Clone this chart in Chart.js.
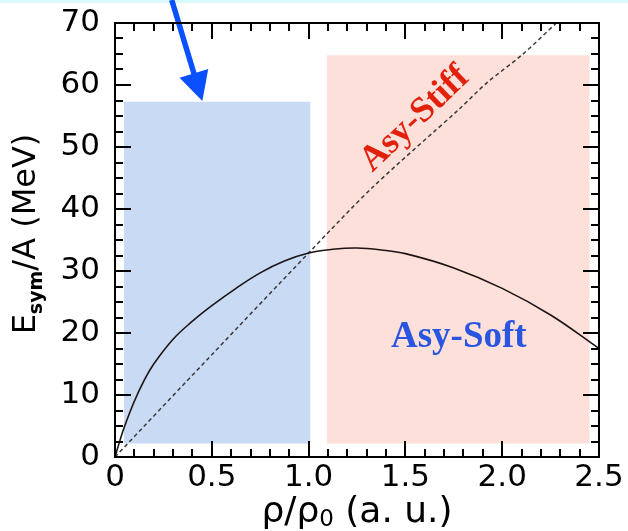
<!DOCTYPE html>
<html><head><meta charset="utf-8">
<script src="https://cdn.jsdelivr.net/npm/chart.js@4/dist/chart.umd.min.js"></script>
<style>html,body{margin:0;padding:0;background:#fff;}canvas{display:block}</style>
</head><body>
<canvas id="c" width="628" height="531"></canvas>
<script>
// ---- data ----
const densitySoft = [0, 0.025, 0.05, 0.1, 0.15, 0.2, 0.3, 0.4, 0.5, 0.625, 0.75, 0.875, 1.0, 1.125, 1.25, 1.375, 1.5, 1.75, 2.0, 2.25, 2.5];
const esymSoft    = [0, 2.6, 5.0, 9.0, 12.3, 15.0, 19.0, 21.9, 24.4, 27.2, 29.7, 31.6, 32.9, 33.5, 33.7, 33.4, 32.8, 30.5, 27.2, 22.9, 17.5];
const densityStiff = [0, 0.5, 1.0, 1.334, 1.781, 1.919, 2.1, 2.28];
const esymStiff    = [0, 16.5, 32.9, 43.6, 56.2, 60.3, 64.8, 70];
const softBandX  = [0.046, 1.01];
const softBandY  = [2.16, 57.3];
const stiffBandX = [1.093, 2.452];
const stiffBandY = [2.16, 64.8];
const xMajorTicks = [0, 0.5, 1, 1.5, 2, 2.5];
const xMinorTicks = [0.1,0.2,0.3,0.4,0.6,0.7,0.8,0.9,1.1,1.2,1.3,1.4,1.6,1.7,1.8,1.9,2.1,2.2,2.3,2.4];
const yMajorTicks = [0, 10, 20, 30, 40, 50, 60, 70];
const yMinorTicks = [2.5,5,7.5,12.5,15,17.5,22.5,25,27.5,32.5,35,37.5,42.5,45,47.5,52.5,55,57.5,62.5,65,67.5];
const labelTexts = ['Asy-Stiff', 'Asy-Soft'];
const labelX = [1.55, 1.776];
const labelY = [54.5, 17.75];
const arrowFrom = [0.293, 73.7];
const arrowTo   = [0.451, 57.4];
const xTitle = ['ρ/ρ', '0', ' (a. u.)'];
const yTitle = ['E', 'sym', '/A (MeV)'];

const pts = (xs, ys) => xs.map((x, i) => ({x, y: ys[i]}));
const band = (bx, y) => [{x: bx[0], y}, {x: bx[1], y}];

const framePlugin = {
  id: 'frame',
  beforeDraw(chart) {
    const ctx = chart.ctx;
    ctx.save();
    ctx.fillStyle = '#ffffff';
    ctx.fillRect(0, 0, chart.width, chart.height);
    ctx.fillStyle = '#dafbfd';
    ctx.fillRect(0, 0, chart.width, 3);
    ctx.restore();
  },
  afterDatasetsDraw(chart) {
    const {ctx, scales: {x, y}} = chart;
    ctx.save();
    ctx.textAlign = 'center';
    ctx.fillStyle = '#e2200c';
    ctx.font = 'bold 36px "Liberation Serif", "Times New Roman", serif';
    ctx.save();
    ctx.translate(x.getPixelForValue(labelX[0]), y.getPixelForValue(labelY[0]));
    ctx.rotate(-43.6 * Math.PI / 180);
    ctx.textBaseline = 'middle';
    ctx.fillText(labelTexts[0], 0, 0);
    ctx.restore();
    ctx.fillStyle = '#2a55e0';
    ctx.font = 'bold 37px "Liberation Serif", "Times New Roman", serif';
    ctx.textBaseline = 'alphabetic';
    ctx.fillText(labelTexts[1], x.getPixelForValue(labelX[1]), y.getPixelForValue(labelY[1]));
    // arrow
    const x0 = x.getPixelForValue(arrowFrom[0]), y0 = y.getPixelForValue(arrowFrom[1]);
    const x1 = x.getPixelForValue(arrowTo[0]), y1 = y.getPixelForValue(arrowTo[1]);
    const ang = Math.atan2(y1 - y0, x1 - x0);
    const hl = 29, hw = 15;
    const bx = x1 - hl * Math.cos(ang), by = y1 - hl * Math.sin(ang);
    ctx.strokeStyle = '#0a50ff';
    ctx.fillStyle = '#0a50ff';
    ctx.lineWidth = 5.5;
    ctx.beginPath(); ctx.moveTo(x0, y0); ctx.lineTo(bx + 2 * Math.cos(ang), by + 2 * Math.sin(ang)); ctx.stroke();
    ctx.beginPath();
    ctx.moveTo(x1, y1);
    ctx.lineTo(bx + hw * Math.sin(ang), by - hw * Math.cos(ang));
    ctx.lineTo(bx - hw * Math.sin(ang), by + hw * Math.cos(ang));
    ctx.closePath(); ctx.fill();
    ctx.restore();
  },
  afterDraw(chart) {
    const {ctx, chartArea: a, scales: {x, y}} = chart;
    ctx.save();
    ctx.strokeStyle = '#000';
    ctx.lineWidth = 2;
    ctx.strokeRect(a.left, a.top, a.right - a.left, a.bottom - a.top);
    const tick = (vals, len) => {
      ctx.beginPath();
      vals.forEach(v => {
        const px = Math.round(x.getPixelForValue(v));
        ctx.moveTo(px, a.bottom); ctx.lineTo(px, a.bottom - len);
        ctx.moveTo(px, a.top); ctx.lineTo(px, a.top + len);
      });
      ctx.stroke();
    };
    const ytick = (vals, len) => {
      ctx.beginPath();
      vals.forEach(v => {
        const py = Math.round(y.getPixelForValue(v));
        ctx.moveTo(a.left, py); ctx.lineTo(a.left + len, py);
        ctx.moveTo(a.right, py); ctx.lineTo(a.right - len, py);
      });
      ctx.stroke();
    };
    tick(xMajorTicks, 16); tick(xMinorTicks, 8);
    ytick(yMajorTicks, 16); ytick(yMinorTicks, 8);
    // axis titles
    ctx.fillStyle = '#000';
    ctx.textBaseline = 'alphabetic';
    ctx.textAlign = 'left';
    const xBig = '36px "DejaVu Sans", sans-serif', xSub = '23px "DejaVu Sans", sans-serif';
    ctx.font = xBig; const w1 = ctx.measureText(xTitle[0]).width, w3 = ctx.measureText(xTitle[2]).width;
    ctx.font = xSub; const w2 = ctx.measureText(xTitle[1]).width;
    const sx = (a.left + a.right) / 2 - (w1 + w2 + w3) / 2;
    const bl = 522;
    ctx.font = xBig; ctx.fillText(xTitle[0], sx, bl);
    ctx.font = xSub; ctx.fillText(xTitle[1], sx + w1, bl + 4);
    ctx.font = xBig; ctx.fillText(xTitle[2], sx + w1 + w2, bl);
    // y title
    const yBig = '32px "DejaVu Sans", sans-serif', ySub = 'bold 19px "DejaVu Sans", sans-serif';
    ctx.font = yBig; const e1 = ctx.measureText(yTitle[0]).width, e3 = ctx.measureText(yTitle[2]).width;
    ctx.font = ySub; const e2 = ctx.measureText(yTitle[1]).width;
    ctx.translate(35, 234 + (e1 + e2 + e3) / 2);
    ctx.rotate(-Math.PI / 2);
    ctx.font = yBig; ctx.fillText(yTitle[0], 0, 0);
    ctx.font = ySub; ctx.fillText(yTitle[1], e1, 7);
    ctx.font = yBig; ctx.fillText(yTitle[2], e1 + e2, 0);
    ctx.restore();
  }
};

const tickFont = {family: 'DejaVu Sans', size: 31};
new Chart(document.getElementById('c'), {
  type: 'line',
  data: {
    datasets: [
      {data: band(softBandX, softBandY[0]), borderColor: 'rgba(0,0,0,0)', borderWidth: 0, pointRadius: 0, fill: false, order: 20},
      {data: band(softBandX, softBandY[1]), borderColor: 'rgba(0,0,0,0)', borderWidth: 0, pointRadius: 0, fill: 0, backgroundColor: '#c9daf4', order: 19},
      {data: band(stiffBandX, stiffBandY[0]), borderColor: 'rgba(0,0,0,0)', borderWidth: 0, pointRadius: 0, fill: false, order: 18},
      {data: band(stiffBandX, stiffBandY[1]), borderColor: 'rgba(0,0,0,0)', borderWidth: 0, pointRadius: 0, fill: 2, backgroundColor: '#fde0da', order: 17},
      {data: pts(densityStiff, esymStiff), borderColor: '#3a3a3a', borderWidth: 1.5, borderDash: [4, 3], pointRadius: 0, fill: false, tension: 0.3, order: 2},
      {data: pts(densitySoft, esymSoft), borderColor: '#1c1414', borderWidth: 1.6, pointRadius: 0, fill: false, tension: 0.4, order: 1}
    ]
  },
  options: {
    responsive: false,
    devicePixelRatio: 1,
    animation: false,
    layout: {padding: {left: 0, right: 29, top: 23, bottom: 0}},
    plugins: {legend: {display: false}, tooltip: {enabled: false}},
    scales: {
      x: {
        type: 'linear', min: 0, max: 2.5,
        ticks: {stepSize: 0.5, font: tickFont, color: '#000', padding: 2, maxRotation: 0, autoSkip: false},
        grid: {display: false, drawTicks: false}, border: {display: false},
        afterFit(s) { s.height = 74; s.paddingLeft = 0; s.paddingRight = 0; }
      },
      y: {
        type: 'linear', min: 0, max: 70,
        ticks: {stepSize: 10, font: tickFont, color: '#000', padding: 15},
        grid: {display: false, drawTicks: false}, border: {display: false},
        afterFit(s) { s.width = 115; s.paddingTop = 0; s.paddingBottom = 0; }
      }
    }
  },
  plugins: [framePlugin]
});
</script>
</body></html>
